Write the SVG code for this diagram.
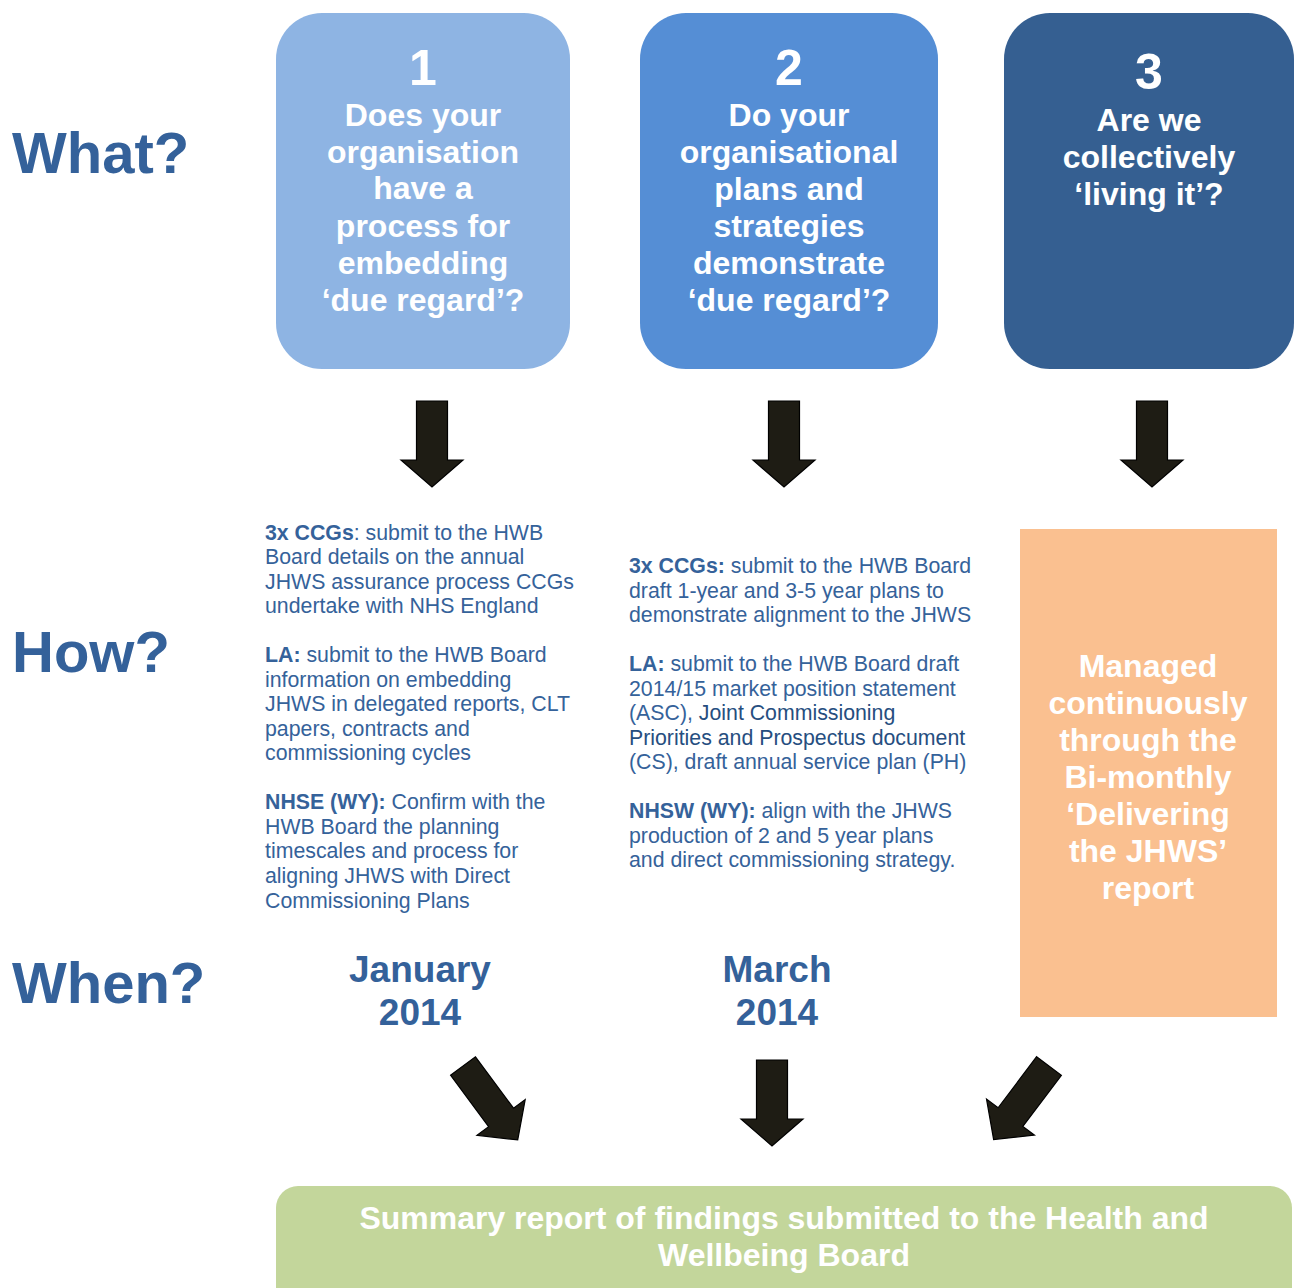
<svg xmlns="http://www.w3.org/2000/svg" width="1295" height="1288" viewBox="0 0 1295 1288">
  <style>
    .lbl { font-family: "Liberation Sans", Arial, sans-serif; font-weight: bold; fill: #34619A; }
    .q { font-family: "Liberation Sans", Arial, sans-serif; font-weight: bold; fill: #FFFFFF; text-anchor: middle; font-size: 32px; }
    .num { font-size: 50px; }
    .how { font-family: "Liberation Sans", Arial, sans-serif; font-size: 21.3px; fill: #35629A; }
    .how .b { font-weight: bold; }
    .how .d { fill: #264E80; }
    .date { font-family: "Liberation Sans", Arial, sans-serif; font-weight: bold; font-size: 37px; fill: #34619A; text-anchor: middle; }
    .arrow { fill: #1E1C14; stroke: #000000; stroke-width: 1.2; stroke-linejoin: miter; }
  </style>
  <defs>
    <!-- block arrow pointing down, origin at top centre of shaft -->
    <path id="arrowDown" d="M-15.5,0 H15.5 V59 H31 L0,86 L-31,59 H-15.5 Z"/>
    <path id="arrowLong" d="M-15.5,0 H15.5 V64 H30 L0,92 L-30,64 H-15.5 Z"/>
  </defs>

  <rect width="1295" height="1288" fill="#FFFFFF"/>

  <!-- row labels -->
  <g id="row-labels">
    <text class="lbl" x="12" y="173" font-size="58">What?</text>
    <text class="lbl" x="12" y="672" font-size="58">How?</text>
    <text class="lbl" x="12" y="1003" font-size="58">When?</text>
  </g>

  <!-- question 1 -->
  <g id="q1">
    <rect x="276" y="13" width="294" height="356" rx="46" fill="#8EB4E3"/>
    <text class="q num" x="423" y="85">1</text>
    <text class="q" x="423" y="126">Does your</text>
    <text class="q" x="423" y="163">organisation</text>
    <text class="q" x="423" y="199">have a</text>
    <text class="q" x="423" y="237">process for</text>
    <text class="q" x="423" y="274">embedding</text>
    <text class="q" x="423" y="311">‘due regard’?</text>
  </g>

  <!-- question 2 -->
  <g id="q2">
    <rect x="640" y="13" width="298" height="356" rx="46" fill="#558ED5"/>
    <text class="q num" x="789" y="85">2</text>
    <text class="q" x="789" y="126">Do your</text>
    <text class="q" x="789" y="163">organisational</text>
    <text class="q" x="789" y="200">plans and</text>
    <text class="q" x="789" y="237">strategies</text>
    <text class="q" x="789" y="274">demonstrate</text>
    <text class="q" x="789" y="311">‘due regard’?</text>
  </g>

  <!-- question 3 -->
  <g id="q3">
    <rect x="1004" y="13" width="290" height="356" rx="46" fill="#355F91"/>
    <text class="q num" x="1149" y="89">3</text>
    <text class="q" x="1149" y="131">Are we</text>
    <text class="q" x="1149" y="168">collectively</text>
    <text class="q" x="1149" y="205">‘living it’?</text>
  </g>

  <!-- actions for question 1 -->
  <g id="how1" class="how">
    <text x="265" y="540"><tspan class="b">3x CCGs</tspan>: submit to the HWB</text>
    <text x="265" y="564">Board details on the annual</text>
    <text x="265" y="589">JHWS assurance process CCGs</text>
    <text x="265" y="613">undertake with NHS England</text>
    <text x="265" y="662"><tspan class="b">LA:</tspan> submit to the HWB Board</text>
    <text x="265" y="687">information on embedding</text>
    <text x="265" y="711">JHWS in delegated reports, CLT</text>
    <text x="265" y="736">papers, contracts and</text>
    <text x="265" y="760">commissioning cycles</text>
    <text x="265" y="809"><tspan class="b">NHSE (WY):</tspan> Confirm with the</text>
    <text x="265" y="834">HWB Board the planning</text>
    <text x="265" y="858">timescales and process for</text>
    <text x="265" y="883">aligning JHWS with Direct</text>
    <text x="265" y="908">Commissioning Plans</text>
  </g>

  <!-- actions for question 2 -->
  <g id="how2" class="how">
    <text x="629" y="573"><tspan class="b">3x CCGs:</tspan> submit to the HWB Board</text>
    <text x="629" y="598">draft 1-year and 3-5 year plans to</text>
    <text x="629" y="622">demonstrate alignment to the JHWS</text>
    <text x="629" y="671"><tspan class="b">LA:</tspan> submit to the HWB Board draft</text>
    <text x="629" y="696">2014/15 market position statement</text>
    <text x="629" y="720">(ASC), <tspan class="d">Joint Commissioning</tspan></text>
    <text x="629" y="745"><tspan class="d">Priorities and Prospectus document</tspan></text>
    <text x="629" y="769">(CS), draft annual service plan (PH)</text>
    <text x="629" y="818"><tspan class="b">NHSW (WY):</tspan> align with the JHWS</text>
    <text x="629" y="843">production of 2 and 5 year plans</text>
    <text x="629" y="867">and direct commissioning strategy.</text>
  </g>

  <!-- ongoing process for question 3 -->
  <g id="how3">
    <rect x="1020" y="529" width="257" height="488" fill="#FAC090"/>
    <text class="q" x="1148" y="677">Managed</text>
    <text class="q" x="1148" y="714">continuously</text>
    <text class="q" x="1148" y="751">through the</text>
    <text class="q" x="1148" y="788">Bi-monthly</text>
    <text class="q" x="1148" y="825">‘Delivering</text>
    <text class="q" x="1148" y="862">the JHWS’</text>
    <text class="q" x="1148" y="899">report</text>
  </g>

  <!-- deadlines -->
  <g id="when1">
    <text class="date" x="420" y="982">January</text>
    <text class="date" x="420" y="1025">2014</text>
  </g>
  <g id="when2">
    <text class="date" x="777" y="982">March</text>
    <text class="date" x="777" y="1025">2014</text>
  </g>

  <!-- summary report -->
  <g id="summary">
    <rect x="276" y="1186" width="1016" height="130" rx="22" fill="#C3D69B"/>
    <text class="q" x="784" y="1229" font-size="31" textLength="849" lengthAdjust="spacingAndGlyphs">Summary report of findings submitted to the Health and</text>
    <text class="q" x="784" y="1266" font-size="31" textLength="252" lengthAdjust="spacingAndGlyphs">Wellbeing Board</text>
  </g>

  <!-- connectors -->
  <g id="connectors" class="arrow">
    <use href="#arrowDown" transform="translate(432,401)"/>
    <use href="#arrowDown" transform="translate(784,401)"/>
    <use href="#arrowDown" transform="translate(1152,401)"/>
    <use href="#arrowLong" transform="translate(463,1066) rotate(-36.5)"/>
    <use href="#arrowDown" transform="translate(772,1060)"/>
    <use href="#arrowLong" transform="translate(1049,1066) rotate(37)"/>
  </g>
</svg>
